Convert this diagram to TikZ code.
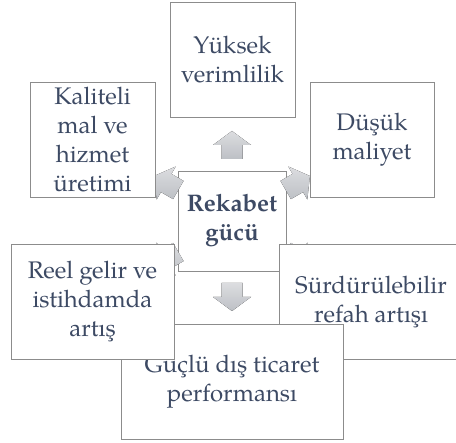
\documentclass[tikz,border=0pt]{standalone}
\usepackage{fontspec}
\setmainfont{TeX Gyre Pagella}

\definecolor{txtblue}{HTML}{3D4A64}
\definecolor{boxgray}{HTML}{8C8C8C}
\definecolor{arrowlight}{HTML}{DCDDE0}
\definecolor{arrowdark}{HTML}{BDC0C5}

\newcommand{\BlockArrow}[2]{
    \fill[blockarrow, shift={(#1)}, rotate=#2]
    (-14,-10.5) -- (0,-10.5) -- (0,-19) -- (14,0)
    -- (0,19) -- (0,10.5) -- (-14,10.5) -- cycle;
}

\begin{document}
\begin{tikzpicture}[
        x=1pt, y=1pt,
        box/.style={draw=boxgray, line width=0.8pt, fill=white, text=txtblue,
            align=center, inner sep=0pt, minimum height=115,
            font=\fontsize{24}{29}\selectfont},
        hub/.style={box, minimum width=108, minimum height=100,
            font=\fontsize{24}{29}\selectfont\bfseries},
        blockarrow/.style={top color=arrowlight, bottom color=arrowdark}
    ]
  \useasboundingbox (0,0) rectangle (456,-443);

  %%% Centre
  \node[hub] (rkb) at (232,-221) {Rekabet\\gücü};

  % Arrows pointing outwards
  \foreach \ang [count=\i] in {90,30,150,210,270,330} {
      \path (rkb.center) ++(\ang:76) coordinate (arr\i);
      \BlockArrow{arr\i}{\ang}
  }

  %%% Outer boxes
  \node[box, minimum width=125] (ykv) at (232.5,-59.5) {Yüksek\\verimlilik};
  \node[box, minimum width=125] (klt) at (92.5,-140) {Kaliteli\\mal ve\\hizmet\\üretimi};
  \node[box, minimum width=124] (dsk) at (372,-139.5) {Düşük\\maliyet};
  \node[box, minimum width=184] (srd) at (371,-301.5) {Sürdürülebilir\\refah artışı};
  \node[box, minimum width=222] (gdt) at (232,-381.5) {Güçlü dış ticaret\\performansı};
  \node[box, minimum width=163] (rel) at (92.5,-301.5) {Reel gelir ve\\istihdamda\\artış};
\end{tikzpicture}
\end{document}
